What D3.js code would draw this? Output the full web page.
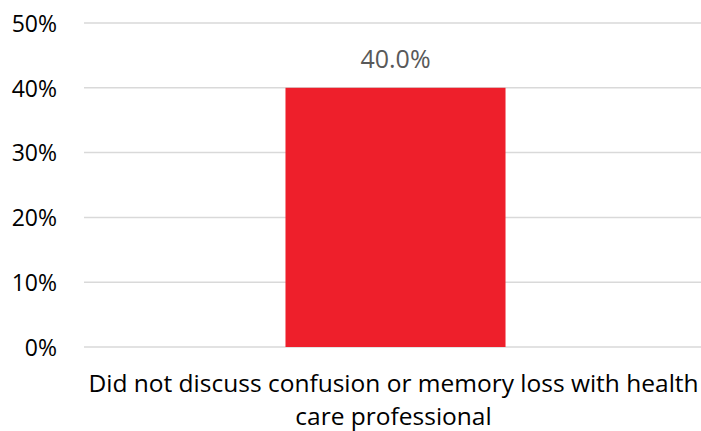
<!DOCTYPE html>
<html>
<head>
<meta charset="utf-8">
<script src="https://cdn.jsdelivr.net/npm/d3@7"></script>
<style>
  html, body { margin: 0; padding: 0; background: #fff; }
  svg { display: block; }
</style>
</head>
<body>
<svg id="chart" width="701" height="431"></svg>
<script>
// Chart data
const categories = ["Did not discuss confusion or memory loss with health care professional"];
const categoryLines = [["Did not discuss confusion or memory loss with health", "care professional"]];
const values = [40.0];
const yTicks = [0, 10, 20, 30, 40, 50];
const yTickLabels = ["0%", "10%", "20%", "30%", "40%", "50%"];

const svg = d3.select("#chart");
const font = "'Open Sans', sans-serif";

const y = d3.scaleLinear().domain([0, 50]).range([347, 23]);
const x = d3.scaleBand().domain(categories).range([84, 707])
  .paddingInner(0.478).paddingOuter(0.478);

// Gridlines
svg.append("g")
  .selectAll("line")
  .data(yTicks)
  .join("line")
  .attr("x1", 84).attr("x2", 701)
  .attr("y1", d => y(d)).attr("y2", d => y(d))
  .attr("stroke", "#d9d9d9").attr("stroke-width", 1.5);

// Y axis labels
const yAxis = d3.axisLeft(y).tickValues(yTicks)
  .tickFormat((d, i) => yTickLabels[i]).tickSize(0).tickPadding(0);
const gy = svg.append("g").attr("transform", "translate(57,1)").call(yAxis);
gy.select(".domain").remove();
gy.selectAll("text")
  .attr("font-family", font).attr("font-size", 23).attr("fill", "#000");

// Bars
svg.append("g")
  .selectAll("rect")
  .data(values)
  .join("rect")
  .attr("x", (d, i) => x(categories[i]))
  .attr("width", x.bandwidth())
  .attr("y", d => y(d))
  .attr("height", d => y(0) - y(d))
  .attr("fill", "#ee1f2b");

// Value labels
svg.append("g")
  .selectAll("text")
  .data(values)
  .join("text")
  .attr("x", (d, i) => x(categories[i]) + x.bandwidth() / 2)
  .attr("y", d => y(d) - 20)
  .attr("text-anchor", "middle")
  .attr("font-family", font).attr("font-size", 25).attr("fill", "#595959")
  .text(d => d.toFixed(1) + "%");

// Category labels (wrapped)
categoryLines.forEach((lines, i) => {
  const t = svg.append("text")
    .attr("text-anchor", "middle")
    .attr("font-family", font).attr("font-size", 24.5).attr("fill", "#000");
  lines.forEach((ln, j) => {
    t.append("tspan")
      .attr("x", x(categories[i]) + x.bandwidth() / 2 - 2)
      .attr("y", 392 + j * 33)
      .text(ln);
  });
});
</script>
</body>
</html>
